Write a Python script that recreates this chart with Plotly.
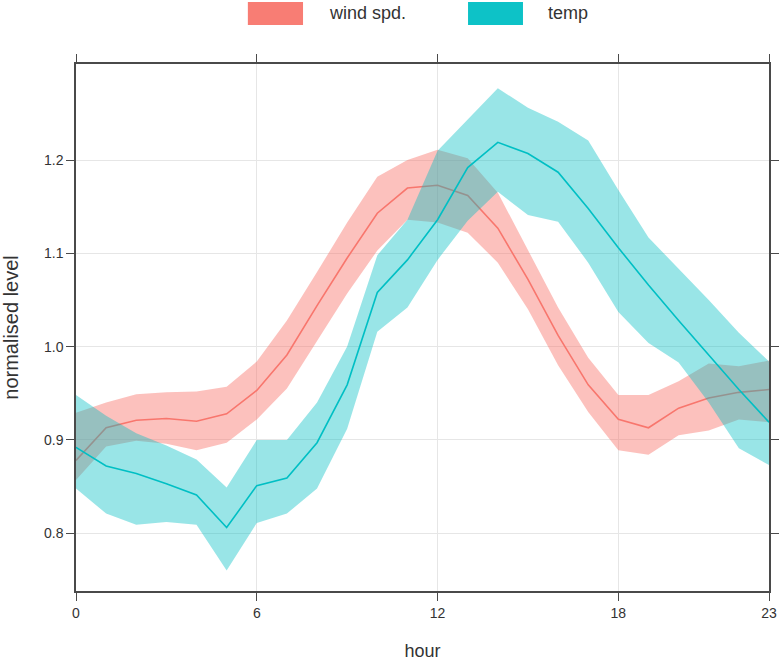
import plotly.graph_objects as go

hours = list(range(24))
x_ticks = [0, 6, 12, 18, 23]
y_ticks = [0.8, 0.9, 1.0, 1.1, 1.2]

wind_mean = [0.878, 0.913, 0.921, 0.923, 0.920, 0.928, 0.953, 0.991, 1.044, 1.095, 1.143, 1.170,
             1.173, 1.162, 1.127, 1.072, 1.012, 0.959, 0.922, 0.913, 0.934, 0.945, 0.951, 0.954]
wind_upper = [0.929, 0.940, 0.949, 0.951, 0.952, 0.957, 0.984, 1.028, 1.080, 1.133, 1.182, 1.200,
              1.211, 1.202, 1.165, 1.103, 1.042, 0.988, 0.948, 0.948, 0.963, 0.982, 0.979, 0.985]
wind_lower = [0.857, 0.893, 0.899, 0.896, 0.889, 0.897, 0.922, 0.955, 1.006, 1.057, 1.103, 1.136,
              1.133, 1.122, 1.090, 1.040, 0.980, 0.930, 0.889, 0.884, 0.905, 0.910, 0.922, 0.919]

temp_mean = [0.892, 0.872, 0.864, 0.853, 0.841, 0.806, 0.851, 0.859, 0.897, 0.959, 1.058, 1.093,
             1.136, 1.192, 1.219, 1.207, 1.187, 1.148, 1.106, 1.066, 1.028, 0.991, 0.954, 0.919]
temp_upper = [0.948, 0.926, 0.907, 0.894, 0.879, 0.849, 0.900, 0.900, 0.940, 1.000, 1.098, 1.136,
              1.210, 1.243, 1.277, 1.256, 1.241, 1.221, 1.168, 1.117, 1.084, 1.050, 1.015, 0.984]
temp_lower = [0.848, 0.821, 0.809, 0.812, 0.809, 0.760, 0.811, 0.821, 0.848, 0.912, 1.016, 1.042,
              1.093, 1.135, 1.166, 1.141, 1.134, 1.090, 1.037, 1.004, 0.983, 0.940, 0.891, 0.873]

series = [
    ("wind spd.", wind_mean, wind_upper, wind_lower, "#F8766D", "rgba(248,118,109,0.45)"),
    ("temp", temp_mean, temp_upper, temp_lower, "#00BFC4", "rgba(0,191,196,0.40)"),
]

fig = go.Figure()
for name, mean, up, lo, col, fillcol in series:
    fig.add_trace(go.Scatter(
        x=hours + hours[::-1], y=up + lo[::-1], fill="toself", fillcolor=fillcol,
        line=dict(width=0), mode="lines", hoverinfo="skip", showlegend=False))
    fig.add_trace(go.Scatter(
        x=hours, y=mean, mode="lines", line=dict(color=col, width=1.6),
        name=name, showlegend=False))

FONT = "Liberation Sans, Arial, sans-serif"
axis_common = dict(
    showline=True, linecolor="#4a4a4a", linewidth=1.5, mirror="ticks",
    ticks="outside", ticklen=8, tickwidth=1.3, tickcolor="#4a4a4a",
    showgrid=True, gridcolor="#e6e6e6", gridwidth=1, zeroline=False,
    automargin=False,
    tickfont=dict(family=FONT, size=14, color="#333333"),
)

fig.update_layout(
    width=780, height=661,
    margin=dict(l=76, r=11, t=64, b=70),
    plot_bgcolor="white", paper_bgcolor="white",
    font=dict(family=FONT, color="#333333"),
    showlegend=False,
    xaxis=dict(range=[0, 23], tickvals=x_ticks, ticktext=[str(v) for v in x_ticks],
               title=dict(text="hour", font=dict(family=FONT, size=18, color="#333333"), standoff=26),
               **axis_common),
    yaxis=dict(range=[0.738, 1.303], tickvals=y_ticks, ticktext=[f"{v:.1f}" for v in y_ticks],
               title=dict(text="normalised level", font=dict(family=FONT, size=20, color="#333333"), standoff=20),
               **axis_common),
)

# legend drawn at top (key rectangles + labels)
legend_items = [("wind spd.", "#F8766D", 0.248, 0.3276, 0.362),
                ("temp", "#00BFC4", 0.5657, 0.645, 0.678)]
for name, col, x0, x1, xt in legend_items:
    fig.add_shape(type="rect", xref="paper", yref="paper", x0=x0, x1=x1, y0=1.074, y1=1.1176,
                  fillcolor=col, line=dict(width=0), opacity=0.95)
    fig.add_annotation(xref="paper", yref="paper", x=xt, y=1.096, text=name, showarrow=False,
                       xanchor="left", yanchor="middle",
                       font=dict(family=FONT, size=18, color="#333333"))

fig.write_html("out.html", config={"displayModeBar": False},
               post_script="document.body.style.margin='0';document.body.style.overflow='hidden';")
